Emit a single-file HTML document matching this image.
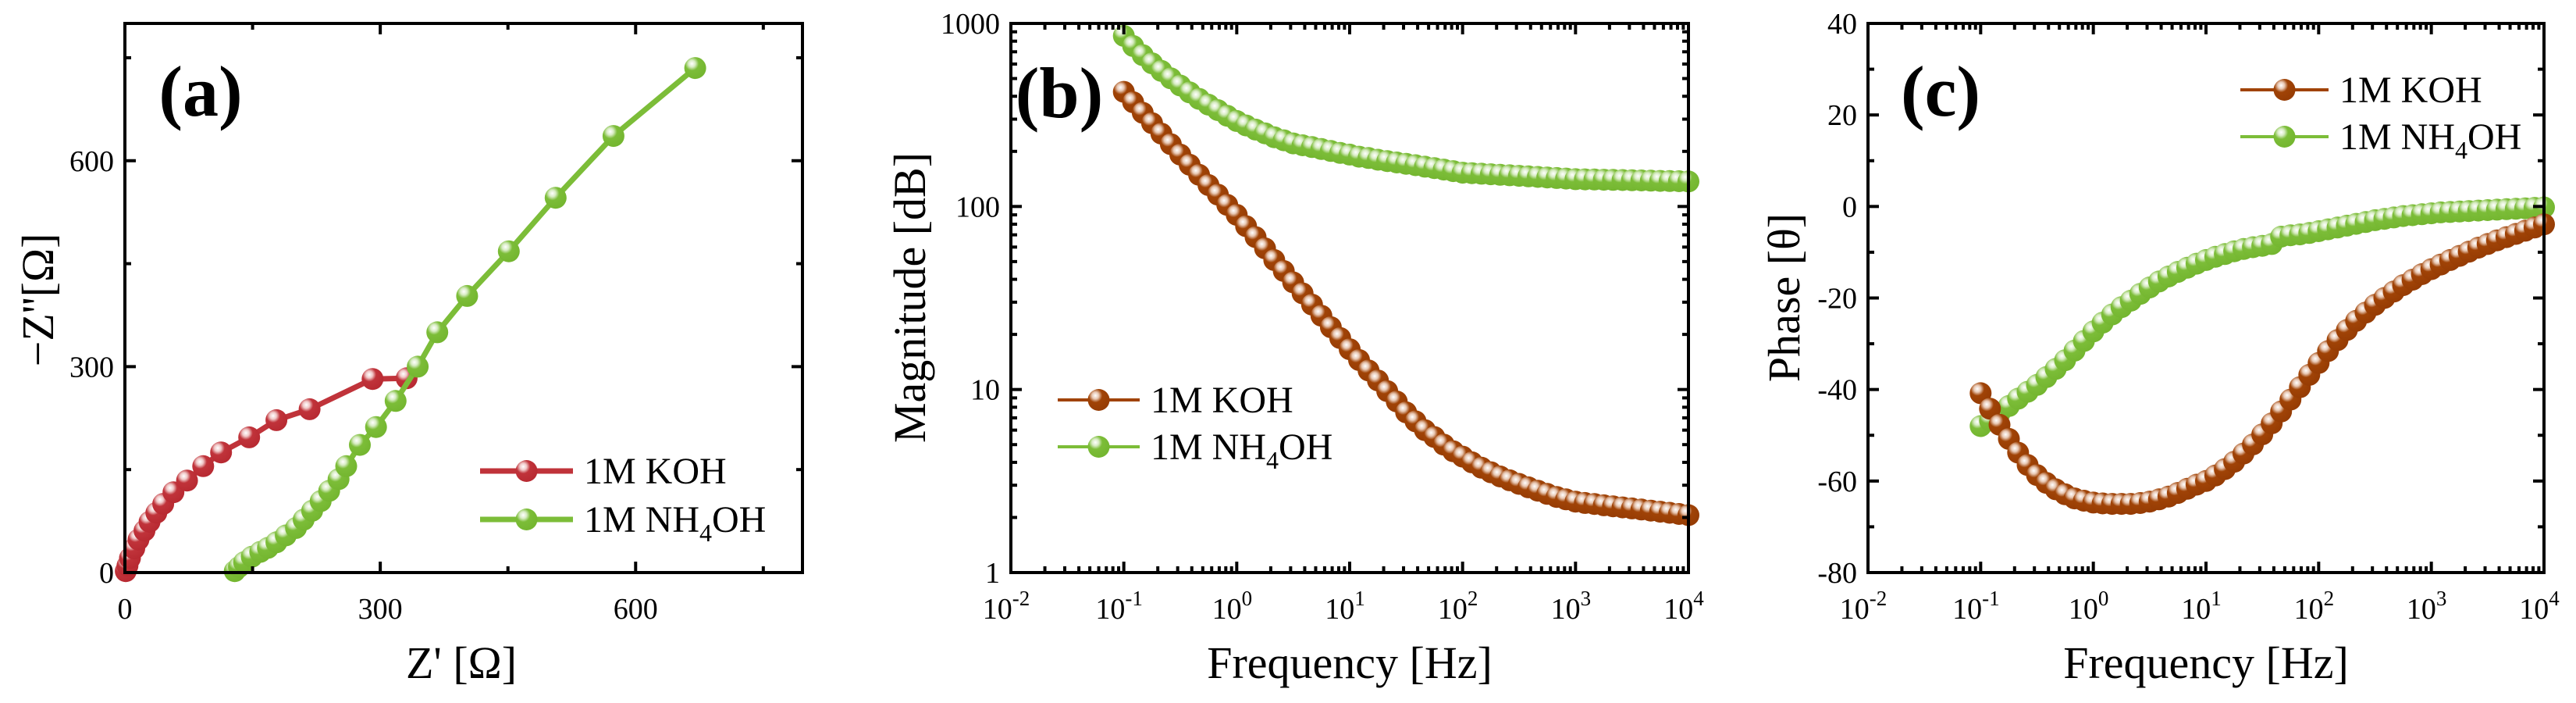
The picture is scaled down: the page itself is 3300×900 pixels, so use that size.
<!DOCTYPE html>
<html><head><meta charset="utf-8"><style>
html,body{margin:0;padding:0;background:#fff;}
svg{display:block;}
svg text{font-family:"Liberation Serif","DejaVu Serif",serif;}
</style></head><body>
<svg id="fig" width="3300" height="900" viewBox="0 0 3300 900" xmlns="http://www.w3.org/2000/svg" font-family="Liberation Serif, serif">
<defs>
<radialGradient id="gRed" cx="0.35" cy="0.3" r="0.7"><stop offset="0" stop-color="#fff"/><stop offset="0.22" stop-color="#f0c8c8"/><stop offset="0.45" stop-color="#c0333a"/><stop offset="1" stop-color="#b82a32"/></radialGradient>
<radialGradient id="gGreen" cx="0.35" cy="0.3" r="0.7"><stop offset="0" stop-color="#fff"/><stop offset="0.22" stop-color="#d8ecc4"/><stop offset="0.45" stop-color="#7cbd38"/><stop offset="1" stop-color="#74b630"/></radialGradient>
<radialGradient id="gBrown" cx="0.35" cy="0.3" r="0.7"><stop offset="0" stop-color="#fff"/><stop offset="0.22" stop-color="#e8c8b4"/><stop offset="0.45" stop-color="#a04306"/><stop offset="1" stop-color="#963c04"/></radialGradient>
</defs>
</svg>
<script>
// ---------- Panel (a) Nyquist data ----------
const kohZre = [1,3,6,11,16,23,29,37,45,57,73,92,113,146,178,217,291,331];
const kohZim = [2,10,21,35,48,61,74,87,100,117,134,155,175,197,222,238,282,283];
const nhZre = [129,134,140,149,159,168,178,189,201,210,220,230,240,251,260,276,295,318,344,367,402,451,506,574,670];
const nhZim = [2,8,15,23,30,36,44,54,65,77,90,104,119,136,155,186,212,250,300,350,403,468,546,636,735];
const nyqTicks = [0,300,600];
// ---------- Panels (b),(c) Bode data ----------
const freq = [0.1,0.121,0.147,0.178,0.215,0.261,0.316,0.383,0.464,0.562,0.681,0.825,
1,1.21,1.47,1.78,2.15,2.61,3.16,3.83,4.64,5.62,6.81,8.25,
10,12.1,14.7,17.8,21.5,26.1,31.6,38.3,46.4,56.2,68.1,82.5,
100,121,147,178,215,261,316,383,464,562,681,825,
1000,1210,1470,1780,2150,2610,3160,3830,4640,5620,6810,8250,10000];
const kohMag = [423,371,325,285,250,219,192,169,149,131,116,102,
90,78,68,59,51,44.4,38.5,33.5,29.1,25.3,21.9,19.1,
16.6,14.5,12.7,11.2,9.8,8.6,7.5,6.7,6.0,5.5,5.0,4.6,
4.3,4.0,3.74,3.53,3.35,3.19,3.05,2.92,2.80,2.69,2.59,2.51,
2.44,2.40,2.37,2.33,2.30,2.27,2.24,2.21,2.18,2.15,2.12,2.09,2.06];
const nhMag = [855,753,671,605,550,501,458,420,387,360,336,313,
293,277,263,251,239,230,221,216,211,206,201,196,
192,187,184,180,177,174,171,168,165,162,159,156,
153,152,151,150,149,148,147,146,145,144,143,142,
141,140.7,140.4,140,139.7,139.4,139,138.7,138.4,138,137.7,137.4,137];
const kohPhase = [-40.8,-44.2,-47.7,-50.8,-53.8,-56.5,-58.7,-60.4,-61.8,-62.9,-63.8,-64.3,
-64.7,-64.9,-65.0,-65.0,-65.0,-64.8,-64.5,-64.0,-63.4,-62.6,-61.7,-60.8,
-60.0,-58.8,-57.4,-55.8,-54.0,-52.0,-49.8,-47.4,-44.8,-42.2,-39.5,-36.8,
-34.2,-31.6,-29.2,-27.0,-25.0,-23.2,-21.5,-20.0,-18.6,-17.2,-16.0,-14.8,
-13.7,-12.7,-11.7,-10.8,-9.9,-9.0,-8.2,-7.4,-6.7,-6.0,-5.3,-4.6,-3.9];
const nhPhase = [-48,-46.8,-45.2,-43.6,-42,-40.5,-39,-37.3,-35.5,-33.6,-31.5,-29.4,
-27.3,-25.4,-23.6,-22,-20.6,-19.1,-17.7,-16.4,-15.3,-14.3,-13.4,-12.5,
-11.7,-11.0,-10.4,-9.8,-9.3,-8.9,-8.6,-8.2,-6.6,-6.3,-6.1,-5.8,
-5.4,-5.0,-4.6,-4.2,-3.8,-3.4,-3.0,-2.7,-2.4,-2.1,-1.9,-1.7,
-1.5,-1.3,-1.2,-1.1,-1.0,-0.9,-0.8,-0.7,-0.6,-0.5,-0.4,-0.3,-0.2];
const logExps = [-2,-1,0,1,2,3,4];
const magTicks = [1,10,100,1000];
const phaseTicks = [-80,-60,-40,-20,0,20,40];

const NS="http://www.w3.org/2000/svg";
const svg=document.getElementById('fig');
const FONT='Liberation Serif, DejaVu Serif, serif';
function mk(tag,attrs,parent){const e=document.createElementNS(NS,tag);for(const k in attrs)e.setAttribute(k,attrs[k]);(parent||svg).appendChild(e);return e;}
const TOP=30,BOT=733;
function grp(name){const g=mk('g',{});return g;}

function frame(g,L,R){mk('rect',{x:L,y:TOP,width:R-L,height:BOT-TOP,fill:'none',stroke:'#000','stroke-width':4},g);}
function tickX(g,x,len){mk('line',{x1:x,x2:x,y1:BOT,y2:BOT-len,stroke:'#000','stroke-width':4},g);mk('line',{x1:x,x2:x,y1:TOP,y2:TOP+len,stroke:'#000','stroke-width':4},g);}
function tickY(g,y,L,R,len){mk('line',{x1:L,x2:L+len,y1:y,y2:y,stroke:'#000','stroke-width':4},g);mk('line',{x1:R,x2:R-len,y1:y,y2:y,stroke:'#000','stroke-width':4},g);}
function text(g,x,y,s,size,anchor,name,extra){const t=mk('text',Object.assign({x:x,y:y,'font-size':size,'font-family':FONT,'text-anchor':anchor||'middle',fill:'#000'},extra||{}),g);t.textContent=s;return t;}
function series(g,xs,ys,sx,sy,color,grad,lw,name){
  const sg=mk('g',{},g);
  let d='';for(let i=0;i<xs.length;i++){d+=(i?'L':'M')+sx(xs[i]).toFixed(1)+' '+sy(ys[i]).toFixed(1);}
  mk('path',{d:d,fill:'none',stroke:color,'stroke-width':lw,'stroke-linejoin':'round'},sg);
  for(let i=0;i<xs.length;i++){const c=mk('circle',{cx:sx(xs[i]).toFixed(1),cy:sy(ys[i]).toFixed(1),r:14,fill:'url(#'+grad+')'},sg);
    
    }
}
function legend(g,x1,x2,y,color,grad,lw,label,sub,name){
  const lg=mk('g',{},g);
  mk('line',{x1:x1,x2:x2,y1:y,y2:y,stroke:color,'stroke-width':lw},lg);
  mk('circle',{cx:(x1+x2)/2,cy:y,r:14,fill:'url(#'+grad+')'},lg);
  const t=mk('text',{x:x2+14,y:y+16,'font-size':48,'font-family':FONT,fill:'#000'},lg);
  
  if(sub){t.appendChild(document.createTextNode(label[0]));const ts=mk('tspan',{'font-size':32,dy:12},t);ts.textContent=sub;const ts2=mk('tspan',{dy:-12},t);ts2.textContent=label[1];}
  else t.textContent=label;
}
function logTicks(g,L,R,sx){
  for(const e of logExps){tickX(g,sx(Math.pow(10,e)),14);
    const t=text(g,sx(Math.pow(10,e))-6,792,'10',38,'middle','x-tick-label');const s=mk('tspan',{'font-size':27,dy:-17},t);s.textContent=String(e);}
  for(let e=-2;e<4;e++)for(let m=2;m<10;m++)tickX(g,sx(m*Math.pow(10,e)),8);
}

// ---------- Panel a ----------
(function(){
 const L=160,R=1028,g=grp('panel-a-nyquist');
 const sx=v=>L+v*(R-L)/796, sy=v=>BOT-v*(BOT-TOP)/800;
 series(g,kohZre,kohZim,sx,sy,'#c0333a','gRed',7,'series-koh');
 series(g,nhZre,nhZim,sx,sy,'#7cbd38','gGreen',7,'series-nh4oh');
 frame(g,L,R);
 for(const v of nyqTicks){tickX(g,sx(v),14);tickY(g,sy(v),L,R,14);text(g,sx(v),792,String(v),38,'middle','x-tick-label');text(g,L-14,sy(v)+13,String(v),38,'end','y-tick-label');}
 for(const v of [150,450,750]){tickX(g,sx(v),8);tickY(g,sy(v),L,R,8);}
 text(g,591,868,"Z' [Ω]",58,'middle','x-axis-title');
 text(g,0,0,'−Z\'\'[Ω]',58,'middle','y-axis-title',{transform:'translate(68,384) rotate(-90)'});
 text(g,257,148,'(a)',92,'middle','panel-label',{'font-weight':'bold'});
 legend(g,615,734,603,'#c0333a','gRed',7,'1M KOH',null,'legend-entry-koh');
 legend(g,615,734,665,'#7cbd38','gGreen',7,['1M NH','OH'],'4','legend-entry-nh4oh');
})();
// ---------- Panel b ----------
(function(){
 const L=1295,R=2163,g=grp('panel-b-magnitude');
 const sx=v=>L+(Math.log10(v)+2)*(R-L)/6, sy=v=>BOT-Math.log10(v)*(BOT-TOP)/3;
 series(g,freq,nhMag,sx,sy,'#7cbd38','gGreen',3,'series-nh4oh');
 series(g,freq,kohMag,sx,sy,'#a04306','gBrown',3,'series-koh');
 frame(g,L,R);logTicks(g,L,R,sx);
 for(const v of magTicks){tickY(g,sy(v),L,R,14);text(g,L-14,sy(v)+13,String(v),38,'end','y-tick-label');}
 for(let e=0;e<3;e++)for(let m=2;m<10;m++)tickY(g,sy(m*Math.pow(10,e)),L,R,8);
 text(g,1729,868,'Frequency [Hz]',58,'middle','x-axis-title');
 text(g,0,0,'Magnitude [dB]',58,'middle','y-axis-title',{transform:'translate(1185,381) rotate(-90)'});
 text(g,1357,150,'(b)',92,'middle','panel-label',{'font-weight':'bold'});
 legend(g,1355,1460,512,'#a04306','gBrown',4,'1M KOH',null,'legend-entry-koh');
 legend(g,1355,1460,572,'#7cbd38','gGreen',4,['1M NH','OH'],'4','legend-entry-nh4oh');
})();
// ---------- Panel c ----------
(function(){
 const L=2393,R=3259,g=grp('panel-c-phase');
 const sx=v=>L+(Math.log10(v)+2)*(R-L)/6, sy=v=>BOT-(v+80)*(BOT-TOP)/120;
 series(g,freq,nhPhase,sx,sy,'#7cbd38','gGreen',3,'series-nh4oh');
 series(g,freq,kohPhase,sx,sy,'#a04306','gBrown',3,'series-koh');
 frame(g,L,R);logTicks(g,L,R,sx);
 for(const v of phaseTicks){tickY(g,sy(v),L,R,14);text(g,L-14,sy(v)+13,String(v),38,'end','y-tick-label');}
 for(let v=-70;v<40;v+=20)tickY(g,sy(v),L,R,8);
 text(g,2826,868,'Frequency [Hz]',58,'middle','x-axis-title');
 text(g,0,0,'Phase [θ]',58,'middle','y-axis-title',{transform:'translate(2305,381) rotate(-90)'});
 text(g,2486,148,'(c)',92,'middle','panel-label',{'font-weight':'bold'});
 legend(g,2870,2983,115,'#a04306','gBrown',4,'1M KOH',null,'legend-entry-koh');
 legend(g,2870,2983,175,'#7cbd38','gGreen',4,['1M NH','OH'],'4','legend-entry-nh4oh');
})();
</script>
</body></html>
